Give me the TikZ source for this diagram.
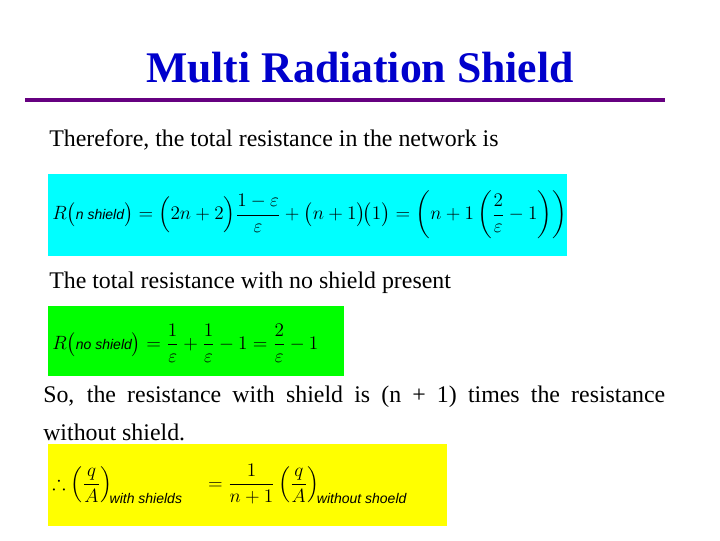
\documentclass[tikz,border=0pt]{standalone}
\usepackage{amsmath,amssymb}
\usepackage{fontspec}
\setmainfont{Liberation Serif}
\newfontfamily\arialit{Liberation Sans}
\definecolor{titleblue}{RGB}{0,0,204}
\definecolor{rulepurple}{RGB}{102,0,128}
\definecolor{cyanbox}{RGB}{0,255,255}
\definecolor{greenbox}{RGB}{0,255,0}
\definecolor{yellowbox}{RGB}{255,255,0}
\newcommand{\subt}[1]{\text{\arialit\itshape\fontsize{10.5}{12}\selectfont #1}}
\begin{document}
\begin{tikzpicture}[x=0.75pt,y=-0.75pt,
  body/.style={anchor=west,inner sep=0pt,font=\fontsize{17.9}{21}\selectfont},
  eq/.style={anchor=west,inner sep=0pt,font=\fontsize{15}{18}\selectfont}]
\useasboundingbox (0,0) rectangle (720,540);
\node[font=\fontsize{32.8}{38}\selectfont\bfseries,text=titleblue] (title) at (360,68) {Multi Radiation Shield};
\coordinate (r1) at (25,100); \coordinate (r2) at (665,100);
\draw[rulepurple,line width=3.5pt] (r1) -- (r2);
\node[body] (t1) at (49,140) {Therefore, the total resistance in the network is};
\fill[cyanbox] (48,174) rectangle (567,256);
\node[eq] (e1) at (52,215) {$R\bigl(\subt{n shield}\bigr)=\Bigl(2n+2\Bigr)\dfrac{1-\varepsilon}{\varepsilon}+\bigl(n+1\bigr)\!\bigl(1\bigr)=\left(n+1\left(\dfrac{2}{\varepsilon}-1\right)\right)$};
\node[body] (t2) at (49,283) {The total resistance with no shield present};
\fill[greenbox] (48,306) rectangle (344,376);
\node[eq] (e2) at (52,343) {$R\bigl(\subt{no shield}\bigr)=\dfrac{1}{\varepsilon}+\dfrac{1}{\varepsilon}-1=\dfrac{2}{\varepsilon}-1$};
\node[body,text width=466.5pt,align=justify,anchor=north west,font=\fontsize{17.9}{28}\selectfont] (t3) at (43,386) {So, the resistance with shield is (n + 1) times the resistance\linebreak without shield.};
\fill[yellowbox] (48,444) rectangle (447,526);
\node[eq] (e3) at (52,484) {$\therefore\left(\dfrac{q}{A}\right)_{\!\subt{with shields}}\quad=\dfrac{1}{n+1}\left(\dfrac{q}{A}\right)_{\!\subt{without shoeld}}$};
\end{tikzpicture}
\end{document}
